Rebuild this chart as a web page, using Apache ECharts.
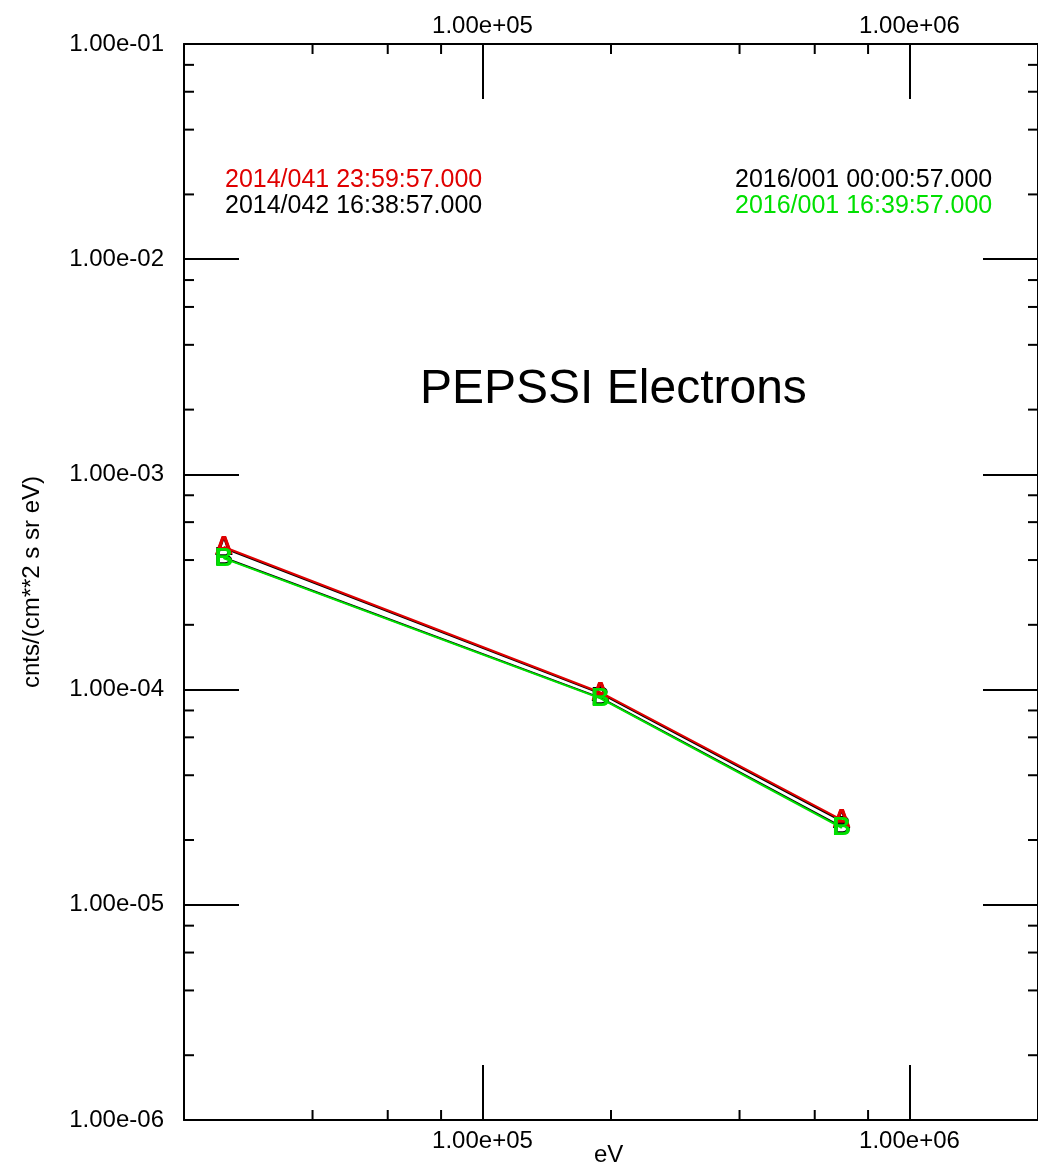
<!DOCTYPE html>
<html><head><meta charset="utf-8">
<script src="https://cdn.jsdelivr.net/npm/echarts@6/dist/echarts.min.js"></script>
<style>html,body{margin:0;background:#fff}#app{width:1038px;height:1173px}</style>
</head><body><div id="app"></div>
<script>
const energies = [2.48e4, 1.89e5, 6.94e5];
const red2014a = [4.6e-4, 9.7e-5, 2.48e-5];
const black2014b = [4.55e-4, 9.6e-5, 2.45e-5];
const black2016a = [4.1e-4, 9.15e-5, 2.3e-5];
const green2016b = [4.07e-4, 9.1e-5, 2.28e-5];
const legendTexts = ['2014/041 23:59:57.000', '2014/042 16:38:57.000', '2016/001 00:00:57.000', '2016/001 16:39:57.000'];
const xMinor = [4e4, 6e4, 8e4, 2e5, 4e5, 6e5, 8e5];
const yMinor = [];
[1e-6, 1e-5, 1e-4, 1e-3, 1e-2].forEach(d => [2, 4, 6, 8].forEach(m => yMinor.push(m * d)));

const FONT = 'Liberation Sans';
function fmt(v) {
  const e = Math.round(Math.log10(v));
  const m = v / Math.pow(10, e);
  const s = e < 0 ? '-' : '+';
  return m.toFixed(2) + 'e' + s + String(Math.abs(e)).padStart(2, '0');
}

const chart = echarts.init(document.getElementById('app'));

function xAxisCfg(pos) {
  return {
    type: 'log', position: pos, min: 2e4, max: 2e6, logBase: 10,
    axisLine: { lineStyle: { color: '#000', width: 2 } },
    axisTick: { inside: true, length: 55, lineStyle: { color: '#000', width: 2 } },
    axisLabel: { formatter: fmt, color: '#000', fontFamily: FONT, fontSize: 24, margin: pos === 'bottom' ? 9 : 6,
      showMinLabel: false, showMaxLabel: false },
    splitLine: { show: false }
  };
}
function yAxisCfg(pos) {
  return {
    type: 'log', position: pos, min: 1e-6, max: 1e-1, logBase: 10,
    axisLine: { lineStyle: { color: '#000', width: 2 } },
    axisTick: { inside: true, length: 55, lineStyle: { color: '#000', width: 2 } },
    axisLabel: { show: pos === 'left', formatter: fmt, color: '#000', fontFamily: FONT, fontSize: 24, margin: 20 },
    splitLine: { show: false },
    name: pos === 'left' ? 'cnts/(cm**2 s sr eV)' : '',
    nameLocation: 'middle', nameGap: 140, nameRotate: 90,
    nameTextStyle: { color: '#000', fontFamily: FONT, fontSize: 24 }
  };
}

function lineSeries(vals, color, mark, z) {
  return {
    type: 'line', data: energies.map((e, i) => [e, vals[i]]), z: z,
    lineStyle: { color: color, width: 2 }, itemStyle: { color: color },
    symbol: 'circle', symbolSize: 1, showSymbol: true,
    label: { show: true, position: 'inside', formatter: mark, color: color,
      fontFamily: FONT, fontSize: 26, fontWeight: 'bold' },
    animation: false
  };
}

const minorSeries = {
  type: 'custom', coordinateSystem: 'cartesian2d', silent: true, clip: false, z: 1,
  data: xMinor.map(v => [v, 'x']).concat(yMinor.map(v => [v, 'y'])),
  renderItem: function (params, api) {
    const v = api.value(0);
    const kind = params.dataIndex < xMinor.length ? 'x' : 'y';
    const st = { stroke: '#000', lineWidth: 2 };
    if (kind === 'x') {
      const b = api.coord([v, 1e-6]), t = api.coord([v, 1e-1]);
      return { type: 'group', children: [
        { type: 'line', shape: { x1: b[0], y1: b[1], x2: b[0], y2: b[1] - 10 }, style: st },
        { type: 'line', shape: { x1: t[0], y1: t[1], x2: t[0], y2: t[1] + 10 }, style: st }
      ] };
    }
    const l = api.coord([2e4, v]), r = api.coord([2e6, v]);
    return { type: 'group', children: [
      { type: 'line', shape: { x1: l[0], y1: l[1], x2: l[0] + 10, y2: l[1] }, style: st },
      { type: 'line', shape: { x1: r[0], y1: r[1], x2: r[0] - 10, y2: r[1] }, style: st }
    ] };
  }
};

chart.setOption({
  backgroundColor: '#fff',
  animation: false,
  grid: { left: 184, right: -6, top: 44, bottom: 53 },
  xAxis: [xAxisCfg('bottom'), xAxisCfg('top')],
  yAxis: [yAxisCfg('left'), yAxisCfg('right')],
  graphic: [
    { type: 'text', left: 225, top: 168, style: { text: legendTexts[0], fill: '#e00000', font: '25px "Liberation Sans"' } },
    { type: 'text', left: 225, top: 194, style: { text: legendTexts[1], fill: '#000', font: '25px "Liberation Sans"' } },
    { type: 'text', left: 735, top: 168, style: { text: legendTexts[2], fill: '#000', font: '25px "Liberation Sans"' } },
    { type: 'text', left: 735, top: 194, style: { text: legendTexts[3], fill: '#00e000', font: '25px "Liberation Sans"' } },
    { type: 'text', left: 420, top: 366, style: { text: 'PEPSSI Electrons', fill: '#000', font: '48px "Liberation Sans"' } },
    { type: 'text', left: 594, top: 1143, style: { text: 'eV', fill: '#000', font: '24px "Liberation Sans"' } }
  ],
  series: [
    minorSeries,
    lineSeries(black2014b, '#000', 'A', 2),
    lineSeries(black2016a, '#000', 'B', 3),
    lineSeries(red2014a, '#e00000', 'A', 4),
    lineSeries(green2016b, '#00e000', 'B', 5)
  ]
});
</script>
</body></html>
